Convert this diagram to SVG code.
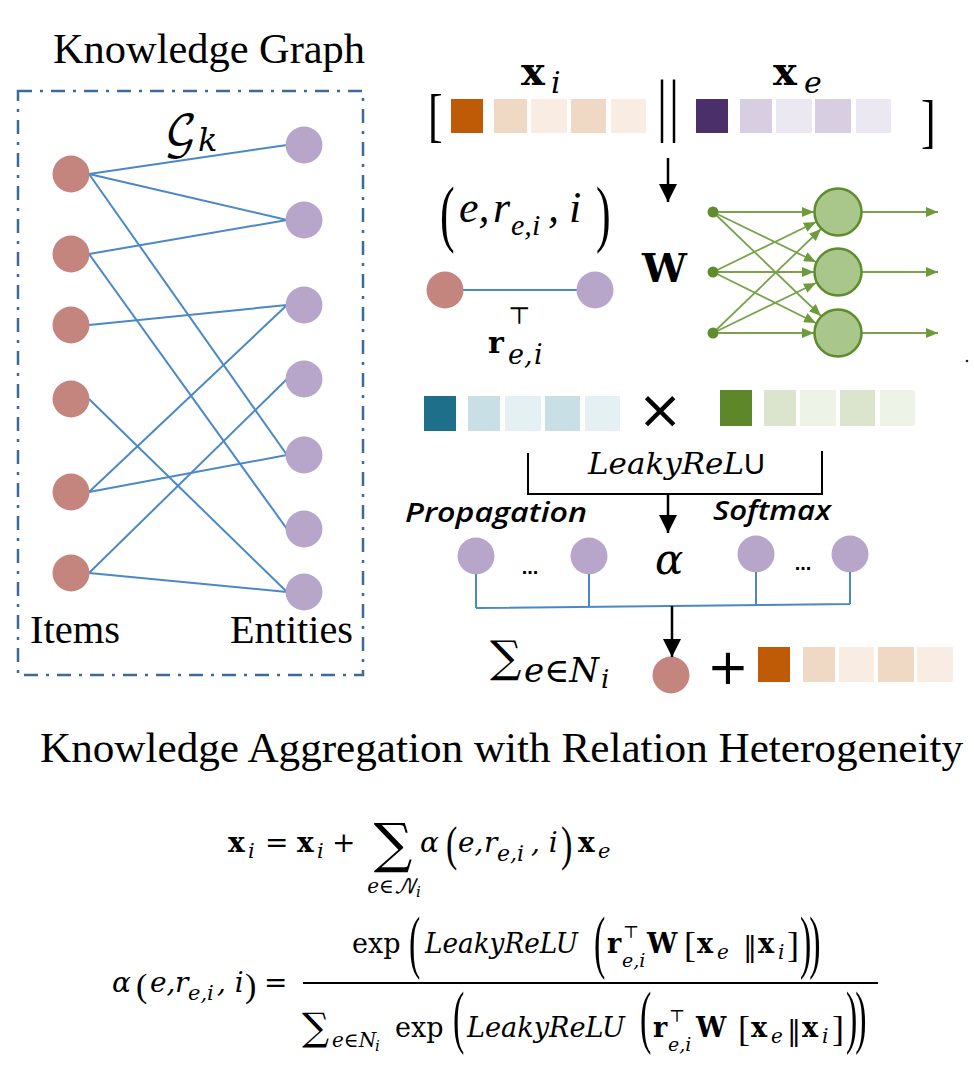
<svg xmlns="http://www.w3.org/2000/svg" width="974" height="1077" viewBox="0 0 974 1077">
<style>
.t{font-family:"Liberation Serif",serif;font-style:normal;font-weight:normal;fill:#000}
.ti{font-family:"Liberation Serif",serif;font-style:italic;font-weight:normal;fill:#000}
.m{font-family:"DejaVu Serif",serif;font-style:italic;font-weight:normal;fill:#000}
.mr{font-family:"DejaVu Serif",serif;font-style:normal;font-weight:normal;fill:#000}
.mb{font-family:"DejaVu Serif",serif;font-style:normal;font-weight:bold;fill:#000}
.cal{font-family:"Open Sans",sans-serif;font-style:italic;font-weight:600;fill:#000}
.item{fill:#c5857f}
.ent{fill:#b7a6ca}
.edge{stroke:#4a88c7;stroke-width:2;fill:none}
.nn{stroke:#7aa24a;stroke-width:1.8;fill:none}
.arr{stroke:#000;stroke-width:2.5;fill:none}
.br{stroke:#000;stroke-width:2;fill:none}
.neuron{fill:#a9c68b;stroke:#5f8d2d;stroke-width:2.5}
.o1{fill:#bf5a06}.o2{fill:#f0d9c4}.o3{fill:#f9ece3}
.p1{fill:#4a2f6a}.p2{fill:#d7cee1}.p3{fill:#ece8f1}
.c1{fill:#1e6f8a}.c2{fill:#c9dfe6}.c3{fill:#e5f0f3}
.g1{fill:#5e8729}.g2{fill:#dbe5cd}.g3{fill:#eef3e7}
</style>
<defs>
<marker id="ah" markerUnits="userSpaceOnUse" markerWidth="18" markerHeight="18" refX="18" refY="9" orient="auto"><path d="M0,0 L18,9 L0,18 z" fill="#000"/></marker>
<marker id="gh" markerUnits="userSpaceOnUse" markerWidth="12" markerHeight="10" refX="12" refY="5" orient="auto"><path d="M0,0 L12,5 L0,10 z" fill="#6f9a3c"/></marker>
</defs>
<rect width="974" height="1077" fill="#fff"/>

<!-- Knowledge graph panel -->
<g id="kg-title"><text class="t" x="53" y="63" font-size="42" textLength="312" lengthAdjust="spacingAndGlyphs">Knowledge Graph</text></g>
<g id="kg-frame"><rect x="18" y="91" width="345" height="584" fill="none" stroke="#3e6a9a" stroke-width="2.5" stroke-dasharray="14,8,3,8"/></g>
<g id="kg-label"><text x="164" y="147" font-size="44" font-family="'DejaVu Math TeX Gyre','DejaVu Serif',serif">𝒢</text><text class="m" x="198" y="151" font-size="32">k</text></g>

<g id="kg-edges">
<line class="edge" x1="89" y1="174" x2="287" y2="145"/>
<line class="edge" x1="89" y1="174" x2="287" y2="220"/>
<line class="edge" x1="89" y1="174" x2="287" y2="455"/>
<line class="edge" x1="89" y1="254" x2="287" y2="220"/>
<line class="edge" x1="89" y1="254" x2="287" y2="529"/>
<line class="edge" x1="89" y1="325" x2="287" y2="305"/>
<line class="edge" x1="89" y1="492" x2="287" y2="305"/>
<line class="edge" x1="89" y1="573" x2="287" y2="379"/>
<line class="edge" x1="89" y1="399" x2="287" y2="592"/>
<line class="edge" x1="89" y1="492" x2="287" y2="455"/>
<line class="edge" x1="89" y1="573" x2="287" y2="592"/>
</g>
<g id="item1"><circle class="item" cx="71" cy="174" r="18.5"/></g>
<g id="item2"><circle class="item" cx="71" cy="254" r="18.5"/></g>
<g id="item3"><circle class="item" cx="71" cy="325" r="18.5"/></g>
<g id="item4"><circle class="item" cx="71" cy="399" r="18.5"/></g>
<g id="item5"><circle class="item" cx="71" cy="492" r="18.5"/></g>
<g id="item6"><circle class="item" cx="71" cy="573" r="18.5"/></g>
<g id="ent1"><circle class="ent" cx="304" cy="145" r="18.5"/></g>
<g id="ent2"><circle class="ent" cx="304" cy="220" r="18.5"/></g>
<g id="ent3"><circle class="ent" cx="304" cy="305" r="18.5"/></g>
<g id="ent4"><circle class="ent" cx="304" cy="379" r="18.5"/></g>
<g id="ent5"><circle class="ent" cx="304" cy="455" r="18.5"/></g>
<g id="ent6"><circle class="ent" cx="304" cy="529" r="18.5"/></g>
<g id="ent7"><circle class="ent" cx="304" cy="592" r="18.5"/></g>
<g id="kg-items-label"><text class="t" x="30" y="643" font-size="40" textLength="90" lengthAdjust="spacingAndGlyphs">Items</text></g>
<g id="kg-entities-label"><text class="t" x="230" y="643" font-size="40" textLength="123" lengthAdjust="spacingAndGlyphs">Entities</text></g>

<!-- concatenated vector -->
<g id="vec-top">
<text class="t" font-size="44" transform="translate(428,134.5) scale(1,1.35)">[</text>
<rect class="o1" x="451" y="99" width="32" height="34"/>
<rect class="o2" x="494" y="99" width="33" height="34"/>
<rect class="o3" x="531" y="99" width="36" height="34"/>
<rect class="o2" x="571" y="99" width="35" height="34"/>
<rect class="o3" x="611" y="99" width="35" height="34"/>
<text class="t" font-size="50" text-anchor="middle" transform="translate(662,128) scale(1,1.4)">|</text>
<text class="t" font-size="50" text-anchor="middle" transform="translate(674,128) scale(1,1.4)">|</text>
<rect class="p1" x="696" y="99" width="32" height="34"/>
<rect class="p2" x="740" y="99" width="32" height="34"/>
<rect class="p3" x="776" y="99" width="36" height="34"/>
<rect class="p2" x="815" y="99" width="36" height="34"/>
<rect class="p3" x="856" y="99" width="35" height="34"/>
<text class="t" font-size="44" transform="translate(921,140.5) scale(1,1.35)">]</text>
</g>
<g id="label-xi"><text class="mb" font-size="40"><tspan x="521" y="85">x</tspan><tspan class="m" x="551" y="93" font-size="30">i</tspan></text></g>
<g id="label-xe"><text class="mb" font-size="40"><tspan x="773" y="85">x</tspan><tspan class="m" x="804" y="93" font-size="30">e</tspan></text></g>

<!-- triple -->
<g id="triple-label">
<text class="t" font-size="44" transform="translate(440,238) scale(1,1.7)">(</text>
<text class="ti" font-size="44"><tspan x="459" y="222">e,</tspan><tspan x="493" y="222">r</tspan><tspan x="511" y="235" font-size="30">e,</tspan><tspan x="532" y="235" font-size="30">i</tspan><tspan x="548" y="222">,</tspan><tspan x="569" y="222">i</tspan></text>
<text class="t" font-size="44" transform="translate(596,238) scale(1,1.7)">)</text>
</g>
<g id="triple-edge">
<line class="edge" x1="463" y1="290" x2="577" y2="290"/>
<circle class="item" cx="445" cy="290" r="18.5"/>
<circle class="ent" cx="595" cy="290" r="18.5"/>
</g>
<g id="label-r"><text class="mb" font-size="30"><tspan x="488" y="353">r</tspan><tspan class="mr" x="508" y="324" font-size="24">⊤</tspan><tspan class="m" x="508" y="364" font-size="27">e,</tspan><tspan class="m" x="534" y="364" font-size="27">i</tspan></text></g>
<g id="label-W"><text class="mb" x="642" y="282" font-size="40">W</text></g>

<!-- neural network -->
<g id="nn">
<g id="nn-edges">
<line class="nn" x1="713" y1="212" x2="814" y2="212" marker-end="url(#gh)"/>
<line class="nn" x1="713" y1="212" x2="816" y2="262" marker-end="url(#gh)"/>
<line class="nn" x1="713" y1="212" x2="821" y2="316" marker-end="url(#gh)"/>
<line class="nn" x1="713" y1="272" x2="816" y2="222" marker-end="url(#gh)"/>
<line class="nn" x1="713" y1="272" x2="814" y2="272" marker-end="url(#gh)"/>
<line class="nn" x1="713" y1="272" x2="816" y2="323" marker-end="url(#gh)"/>
<line class="nn" x1="713" y1="333" x2="821" y2="229" marker-end="url(#gh)"/>
<line class="nn" x1="713" y1="333" x2="816" y2="283" marker-end="url(#gh)"/>
<line class="nn" x1="713" y1="333" x2="814" y2="333" marker-end="url(#gh)"/>
<line class="nn" x1="862" y1="212" x2="938" y2="212" marker-end="url(#gh)"/>
<line class="nn" x1="862" y1="272" x2="938" y2="272" marker-end="url(#gh)"/>
<line class="nn" x1="862" y1="333" x2="938" y2="333" marker-end="url(#gh)"/>
</g>
<circle cx="713" cy="212" r="5.5" fill="#5f8d2d"/>
<circle cx="713" cy="272" r="5.5" fill="#5f8d2d"/>
<circle cx="713" cy="333" r="5.5" fill="#5f8d2d"/>
<circle class="neuron" cx="838" cy="212" r="23.5"/>
<circle class="neuron" cx="838" cy="272" r="23.5"/>
<circle class="neuron" cx="838" cy="333" r="23.5"/>
<circle cx="967" cy="361" r="1.3" fill="#222"/>
</g>

<!-- second row vectors -->
<g id="vec-r">
<rect class="c1" x="424" y="396" width="32" height="35"/>
<rect class="c2" x="468" y="396" width="32" height="35"/>
<rect class="c3" x="505" y="396" width="36" height="35"/>
<rect class="c2" x="545" y="396" width="35" height="35"/>
<rect class="c3" x="585" y="396" width="35" height="35"/>
</g>
<g id="times"><text x="660" y="428" font-size="54" text-anchor="middle" font-family="'DejaVu Sans',sans-serif">×</text></g>
<g id="vec-w">
<rect class="g1" x="720" y="390" width="32" height="36"/>
<rect class="g2" x="764" y="390" width="32" height="36"/>
<rect class="g3" x="800" y="390" width="36" height="36"/>
<rect class="g2" x="840" y="390" width="35" height="36"/>
<rect class="g3" x="880" y="390" width="35" height="36"/>
</g>
<g id="leaky-label"><text class="m" x="588" y="474" font-size="29"><tspan textLength="156" lengthAdjust="spacingAndGlyphs">LeakyReL</tspan><tspan font-family="'Liberation Sans',sans-serif" font-style="normal">U</tspan></text></g>
<g id="propagation-label"><text class="cal" x="405" y="522" font-size="27" textLength="182" lengthAdjust="spacingAndGlyphs">Propagation</text></g>
<g id="softmax-label"><text class="cal" x="713" y="520" font-size="27" textLength="118" lengthAdjust="spacingAndGlyphs">Softmax</text></g>

<!-- attention row -->
<g id="alpha-label"><text class="m" x="655" y="574" font-size="42">α</text></g>
<g id="nbr1"><circle class="ent" cx="476" cy="556" r="18.5"/></g>
<g id="nbr2"><circle class="ent" cx="589" cy="556" r="18.5"/></g>
<g id="nbr3"><circle class="ent" cx="756" cy="554" r="18.5"/></g>
<g id="nbr4"><circle class="ent" cx="850" cy="554" r="18.5"/></g>
<g id="dots"><text x="530" y="574" font-size="20" font-weight="bold" text-anchor="middle" font-family="'Liberation Sans',sans-serif">...</text><text x="803" y="570" font-size="20" font-weight="bold" text-anchor="middle" font-family="'Liberation Sans',sans-serif">...</text></g>
<g id="agg-node"><circle class="item" cx="671" cy="675" r="18.5"/></g>
<g id="sum-label"><text class="mr" font-size="44"><tspan x="490" y="672">∑</tspan><tspan class="m" x="524" y="682" font-size="34">e∈N</tspan><tspan class="m" x="601" y="688" font-size="26">i</tspan></text></g>
<g id="plus"><text x="728" y="684" font-size="50" text-anchor="middle" font-family="'DejaVu Sans',sans-serif">+</text></g>
<g id="vec-out">
<rect class="o1" x="758" y="647" width="32" height="35"/>
<rect class="o2" x="803" y="647" width="32" height="35"/>
<rect class="o3" x="839" y="647" width="35" height="35"/>
<rect class="o2" x="878" y="647" width="36" height="35"/>
<rect class="o3" x="917" y="647" width="36" height="35"/>
</g>

<!-- connectors -->
<g id="connectors">
<line class="arr" x1="668" y1="158" x2="668" y2="202" marker-end="url(#ah)"/>
<path class="br" d="M528,453 V494 H822 V451"/>
<line class="arr" x1="668" y1="494" x2="668" y2="533" marker-end="url(#ah)"/>
<path class="edge" d="M476,574 V608 M589,574 V607 M756,572 V605 M850,572 V604 M476,608 L850,604"/>
<line class="arr" x1="672" y1="606" x2="672" y2="657" marker-end="url(#ah)"/>
</g>

<!-- caption -->
<g id="caption"><text class="t" x="40" y="762" font-size="43" textLength="923" lengthAdjust="spacingAndGlyphs">Knowledge Aggregation with Relation Heterogeneity</text></g>

<!-- formula 1 -->
<g id="formula1">
<text class="mr" font-size="28"><tspan class="mb" x="228" y="852">x</tspan><tspan class="m" x="248" y="858" font-size="21">i</tspan><tspan x="265" y="852">=</tspan><tspan class="mb" x="297" y="852">x</tspan><tspan class="m" x="317" y="858" font-size="21">i</tspan><tspan x="332" y="852">+</tspan></text>
<text class="mr" text-anchor="middle"><tspan x="393" y="862" font-size="54">∑</tspan><tspan class="m" x="394" y="893" font-size="20">e∈<tspan font-family="'DejaVu Math TeX Gyre','DejaVu Serif',serif">𝒩</tspan><tspan font-size="15" dy="4">i</tspan></tspan></text>
<text class="m" x="420" y="852" font-size="28">α</text>
<text class="t" font-size="34" transform="translate(446,860) scale(1,1.4)">(</text>
<text class="m" font-size="28"><tspan x="458" y="852">e,</tspan><tspan x="484" y="852">r</tspan><tspan x="497" y="861" font-size="22">e,</tspan><tspan x="517" y="861" font-size="22">i</tspan><tspan x="531" y="852">, i</tspan></text>
<text class="t" font-size="34" transform="translate(561,860) scale(1,1.4)">)</text>
<text class="mb" font-size="28"><tspan x="578" y="852">x</tspan><tspan class="m" x="598" y="858" font-size="21">e</tspan></text>
</g>

<!-- formula 2 -->
<g id="formula2">
<text class="m" x="112" y="992" font-size="28">α</text>
<text class="t" font-size="34" transform="translate(136,997)">(</text>
<text class="m" font-size="28"><tspan x="150" y="992">e,</tspan><tspan x="175" y="992">r</tspan><tspan x="188" y="1000" font-size="21">e,</tspan><tspan x="207" y="1000" font-size="21">i</tspan><tspan x="217" y="992">, i</tspan></text>
<text class="t" font-size="34" transform="translate(245,997)">)</text>
<text class="mr" x="264" y="992" font-size="28">=</text>
<line x1="303" y1="983" x2="878" y2="983" stroke="#000" stroke-width="2"/>

<text class="mr" x="352" y="953" font-size="27">exp</text>
<text class="t" font-size="34" transform="translate(409,964.5) scale(1,2.05)">(</text>
<text class="m" x="425" y="953" font-size="27" textLength="153" lengthAdjust="spacingAndGlyphs">LeakyReLU</text>
<text class="t" font-size="34" transform="translate(594,964.5) scale(1,2.05)">(</text>
<text class="mb" font-size="27"><tspan x="607" y="953">r</tspan><tspan class="mr" x="623" y="938" font-size="17">⊤</tspan><tspan class="m" x="622" y="967" font-size="19">e,i</tspan></text>
<text class="mb" x="647" y="953" font-size="27">W</text>
<text class="t" x="684" y="957" font-size="36">[</text>
<text class="mb" font-size="27"><tspan x="697" y="953">x</tspan><tspan class="m" x="717" y="959" font-size="20">e</tspan></text>
<text class="mr" x="743" y="956" font-size="28">‖</text>
<text class="mb" font-size="27"><tspan x="758" y="953">x</tspan><tspan class="m" x="778" y="959" font-size="20">i</tspan></text>
<text class="t" x="787" y="957" font-size="36">]</text>
<text class="t" font-size="34" letter-spacing="-2" transform="translate(800,964.5) scale(1,2.05)">))</text>

<text class="mr" font-size="38"><tspan x="302" y="1040">∑</tspan><tspan class="m" x="332" y="1047" font-size="20">e∈N</tspan><tspan class="m" x="375" y="1051" font-size="15">i</tspan></text>
<text class="mr" x="395" y="1037" font-size="27">exp</text>
<text class="t" font-size="34" transform="translate(453,1039.5) scale(1,2.05)">(</text>
<text class="m" x="467" y="1037" font-size="27" textLength="158" lengthAdjust="spacingAndGlyphs">LeakyReLU</text>
<text class="t" font-size="34" transform="translate(640,1039.5) scale(1,2.05)">(</text>
<text class="mb" font-size="27"><tspan x="653" y="1037">r</tspan><tspan class="mr" x="669" y="1022" font-size="17">⊤</tspan><tspan class="m" x="668" y="1051" font-size="19">e,i</tspan></text>
<text class="mb" x="696" y="1037" font-size="27">W</text>
<text class="t" x="738" y="1041" font-size="36">[</text>
<text class="mb" font-size="27"><tspan x="751" y="1037">x</tspan><tspan class="m" x="771" y="1043" font-size="20">e</tspan></text>
<text class="mr" x="787" y="1040" font-size="28">‖</text>
<text class="mb" font-size="27"><tspan x="802" y="1037">x</tspan><tspan class="m" x="822" y="1043" font-size="20">i</tspan></text>
<text class="t" x="832" y="1041" font-size="36">]</text>
<text class="t" font-size="34" letter-spacing="-2" transform="translate(846,1039.5) scale(1,2.05)">))</text>
</g>
</svg>
